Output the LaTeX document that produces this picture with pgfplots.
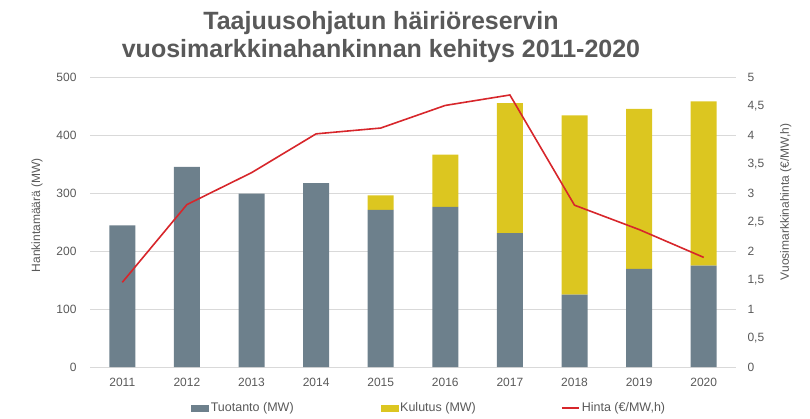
\documentclass[border=0pt]{standalone}
\usepackage{pgfplots}
\pgfplotsset{compat=1.18}
\usepackage{fontspec}
\setmainfont{Liberation Sans}
\definecolor{tuot}{HTML}{6D808C}
\definecolor{kul}{HTML}{DCC620}
\definecolor{hinta}{HTML}{D7262B}
\definecolor{txt}{HTML}{595959}
\definecolor{grd}{HTML}{D9D9D9}

\pgfplotstableread{
x tuotanto kulutus
0 244 0
1 345 0
2 299 0
3 317 0
4 271 25
5 276 90
6 231 224
7 125 309
8 169 276
9 175 283
}\bars

\pgfplotstableread{
x hinta
0 1.46
1 2.80
2 3.35
3 4.02
4 4.12
5 4.51
6 4.69
7 2.79
8 2.37
9 1.89
}\price

\begin{document}
\begin{tikzpicture}[x=1pt,y=1pt]
\path[use as bounding box] (0,0) rectangle (810,418);
\node[font=\fontsize{25}{28}\selectfont\bfseries, text=txt, align=center] at (381,381) {Taajuusohjatun häiriöreservin\\vuosimarkkinahankinnan kehitys 2011-2020};

\pgfplotsset{
  common/.style={
    at={(90pt,51pt)}, anchor=south west, scale only axis,
    width=646pt, height=290pt,
    xmin=-0.5, xmax=9.5, ymin=0,
    axis line style={draw=none},
    major tick length=0pt,
    tick label style={font=\fontsize{12}{14}\selectfont, text=txt},
    label style={font=\fontsize{12}{14}\selectfont, text=txt},
    /pgf/number format/assume math mode=true,
  }
}

\begin{axis}[common,
  ymax=500, ytick={0,100,...,500},
  xtick={0,...,9},
  xticklabels={2011,2012,2013,2014,2015,2016,2017,2018,2019,2020},
  ymajorgrids, grid style={grd, line width=0.9pt},
  ybar stacked, bar width=26pt,
  ylabel={Hankintamäärä (MW)},
  ylabel style={at={(axis description cs:-0.082,0.524)}, anchor=center},
  yticklabel style={xshift=-10pt},
  xticklabel style={yshift=-8pt},
]
\addplot[fill=tuot, draw=none] table[x=x, y=tuotanto] {\bars};
\addplot[fill=kul, draw=none] table[x=x, y=kulutus] {\bars};
\end{axis}

\begin{axis}[common,
  ymax=5, ytick={0,0.5,...,5},
  axis y line*=right, hide x axis,
  yticklabel style={/pgf/number format/.cd, use comma, fixed, precision=1, /tikz/.cd, xshift=8pt},
  ylabel={Vuosimarkkinahinta (€/MW,h)},
  ylabel style={at={(axis description cs:1.077,0.569)}, anchor=center},
  legend columns=3,
  legend style={draw=none, fill=none, at={(0.152,-0.141)}, anchor=west,
    font=\fontsize{12.5}{14}\selectfont, text=txt},
]
\addlegendimage{legend image code/.code={\fill[tuot] (0pt,-3pt) rectangle (17pt,3pt);}}
\addlegendentry{\makebox[168pt][l]{Tuotanto (MW)}}
\addlegendimage{legend image code/.code={\fill[kul] (0pt,-3pt) rectangle (17pt,3pt);}}
\addlegendentry{\makebox[159pt][l]{Kulutus (MW)}}
\addplot[hinta, line width=1.6pt, mark=none,
  legend image code/.code={\draw[hinta, line width=1.6pt] (0pt,0pt) -- (17pt,0pt);}]
  table[x=x, y=hinta] {\price};
\addlegendentry{Hinta (€/MW,h)}
\end{axis}
\end{tikzpicture}
\end{document}
